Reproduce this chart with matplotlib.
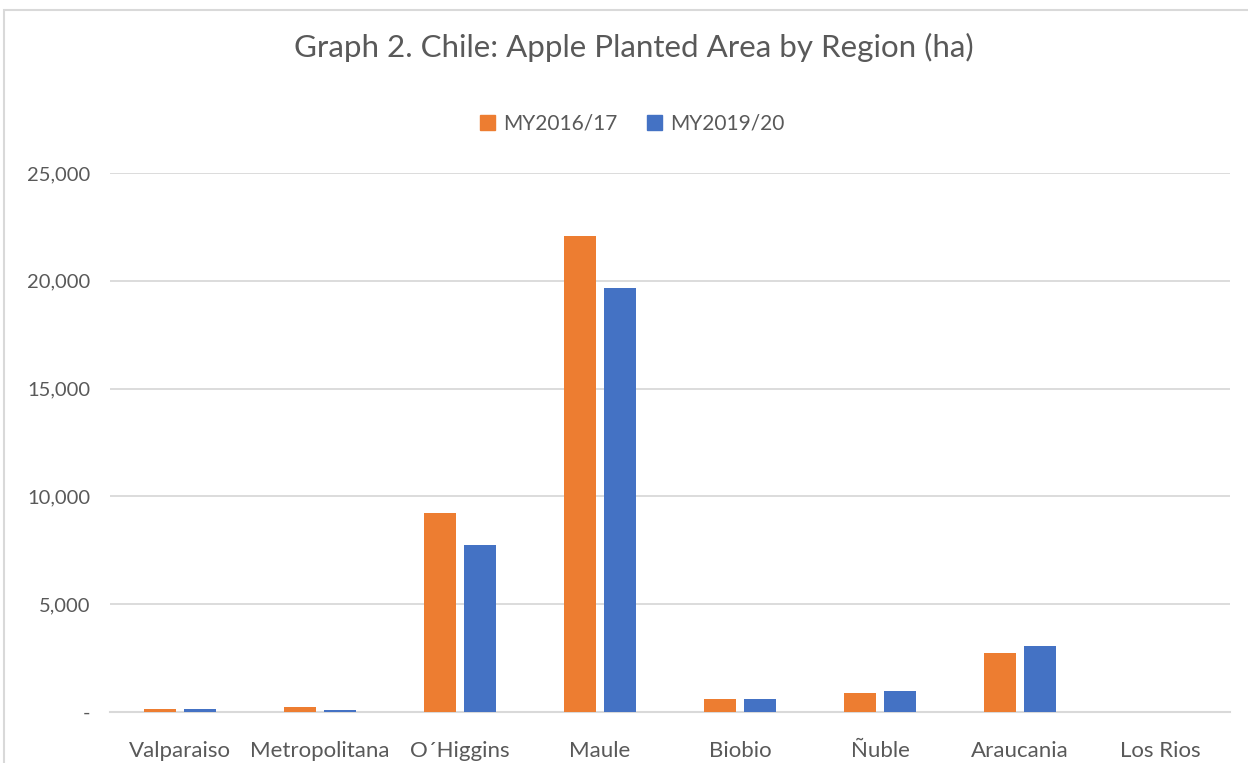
import numpy as np
import matplotlib.pyplot as plt
from matplotlib.patches import Rectangle, Patch

# Data (hectares)
regions = ["Valparaiso", "Metropolitana", "O´Higgins", "Maule", "Biobio",
           "Ñuble", "Araucania", "Los Rios"]
my2016 = [150, 230, 9230, 22080, 600, 880, 2740, 0]
my2019 = [150, 100, 7750, 19670, 600, 970, 3060, 0]
series_names = ["MY2016/17", "MY2019/20"]
yticks = [0, 5000, 10000, 15000, 20000, 25000]
ytick_labels = ["-", "5,000", "10,000", "15,000", "20,000", "25,000"]

orange = "#ED7D31"
blue = "#4472C4"
grey_txt = "#595959"
grid_col = "#D9D9D9"

plt.rcParams['font.family'] = ['Lato', 'DejaVu Sans']

fig = plt.figure(figsize=(12.48, 7.63), dpi=100)
ax = fig.add_axes([110 / 1248, 1 - 712 / 763, 1120 / 1248, 539 / 763])

x = np.arange(len(regions))
w = 0.229
ax.bar(x - 0.143, my2016, width=w, color=orange, zorder=3)
ax.bar(x + 0.143, my2019, width=w, color=blue, zorder=3)

ax.set_xlim(-0.5, len(regions) - 0.5)
ax.set_ylim(0, 25000)
ax.set_yticks(yticks)
ax.set_yticklabels(ytick_labels)
ax.set_xticks(x)
ax.set_xticklabels(regions)
ax.tick_params(axis='both', length=0, colors=grey_txt)
ax.tick_params(axis='y', pad=14, labelsize=14.5)
ax.tick_params(axis='x', pad=21, labelsize=16)
ax.grid(axis='y', color=grid_col, linewidth=1.3, zorder=0)
for s in ["top", "right", "left"]:
    ax.spines[s].set_visible(False)
ax.spines["bottom"].set_color(grid_col)
ax.spines["bottom"].set_linewidth(1.5)

# chart border (Excel style)
fig.patches.append(Rectangle((4 / 1248, -0.1), 1.2, 1.1 - 10 / 763,
                             transform=fig.transFigure, fill=False,
                             edgecolor=grid_col, linewidth=1.5))

fig.text(634 / 1248, 1 - 47 / 763, "Graph 2. Chile: Apple Planted Area by Region (ha)",
         ha='center', va='center', fontsize=22.5, color=grey_txt)

handles = [Patch(color=orange), Patch(color=blue)]
fig.legend(handles, series_names, loc='center', bbox_to_anchor=(632 / 1248, 1 - 124 / 763),
           ncol=2, frameon=False, fontsize=15, labelcolor=grey_txt,
           handlelength=0.72, handleheight=0.72, handletextpad=0.4, columnspacing=1.4)

fig.savefig("out.png", dpi=100)
